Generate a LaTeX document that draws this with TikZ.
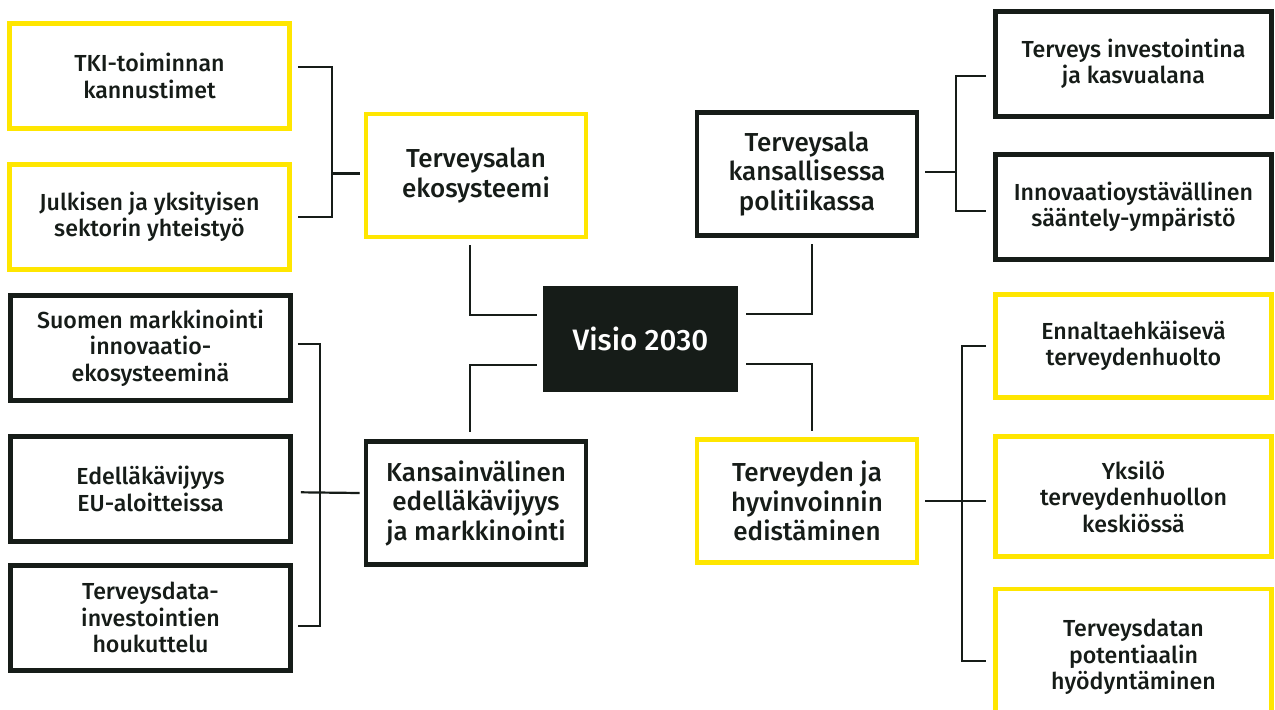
\documentclass[tikz,border=0pt]{standalone}
\usepackage{fontspec}
\setmainfont{Fira Sans}[UprightFont=* Medium]
\usetikzlibrary{positioning, calc}
\definecolor{cYel}{HTML}{FFE600}
\definecolor{ink}{HTML}{161C18}

\begin{document}
\begin{tikzpicture}[
    x=0.25mm, y=-0.25mm,
    box/.style={
        rectangle, draw=#1, line width=1.2mm, align=center, inner sep=0pt,
        text=ink, minimum width=55mm, minimum height=30.75mm,
        font=\fontsize{18.5}{21}\selectfont
    },
    ybox/.style={box=cYel},
    dbox/.style={box=ink},
    leaf/.style={minimum width=70mm, minimum height=26.25mm,
        font=\fontsize{16.5}{18.8}\selectfont},
    rleaf/.style={leaf, minimum width=69mm},
    visbox/.style={rectangle, fill=ink, text=white, minimum width=48.75mm,
        minimum height=26.5mm, font=\fontsize{21}{23}\selectfont},
    conn/.style={draw=ink, line width=0.55mm},
]
\useasboundingbox (0,0) rectangle (1275,709);
\clip (0,0) rectangle (1275,709);

% ---------------------------------------------------------------- centre
\node (visio) [visbox] at (640.5,339) {Visio 2030};

% ---------------------------------------------------------------- branches
\node (eko)     [ybox] at (476,175.5) {Terveysalan\\ekosysteemi};
\node (kanspol) [dbox] at (807,174)   {Terveysala\\kansallisessa\\politiikassa};
\node (kv)      [dbox] at (476,503)   {Kansainvälinen\\edelläkävijyys\\ja markkinointi};
\node (tervhyv) [ybox] at (807,501)   {Terveyden ja\\hyvinvoinnin\\edistäminen};

% ---------------------------------------------------------------- left leaves
\node (tki)    [ybox, leaf] at (149.5,76)               {TKI-toiminnan\\kannustimet};
\node (julk)   [ybox, leaf, below=7.75mm of tki]        {Julkisen ja yksityisen\\sektorin yhteistyö};
\node (suomen) [dbox, leaf] at (150.5,348)              {Suomen markkinointi\\innovaatio-\\ekosysteeminä};
\node (edel)   [dbox, leaf, below=7.75mm of suomen]     {Edelläkävijyys\\EU-aloitteissa};
\node (tdata)  [dbox, leaf, below=4.75mm of edel]       {Terveysdata-\\investointien\\houkuttelu};

% ---------------------------------------------------------------- right leaves
\node (tinv)   [dbox, rleaf] at (1133.5,64)             {Terveys investointina\\ja kasvualana};
\node (innov)  [dbox, rleaf, below=8.25mm of tinv]      {Innovaatioystävällinen\\sääntely-ympäristö};
\node (ennal)  [ybox, rleaf, minimum height=25.75mm] at (1133.5,346) {Ennaltaehkäisevä\\terveydenhuolto};
\node (yksilo) [ybox, rleaf, minimum height=30mm] at (1133.5,496.5)  {Yksilö\\terveydenhuollon\\keskiössä};
\node (tdatan) [ybox, rleaf, minimum height=34mm] at (1133.5,657)    {Terveysdatan\\potentiaalin\\hyödyntäminen};

% ---------------------------------------------------------------- centre links
\draw [conn] ($(eko.south)+(-6,6)$) |- ($(visio.west)+(-6,-24)$);
\draw [conn] ($(visio.west)+(-6,26)$) -| ($(kv.north)+(-6,-7)$);
\draw [conn] ($(visio.east)+(8,-25)$) -| ($(kanspol.south)+(5,6)$);
\draw [conn] ($(visio.east)+(8,25)$) -| ($(tervhyv.north)+(5,-6)$);

% ---------------------------------------------------------------- brackets
\draw [conn] ($(tki.east)+(6,-9)$) -- ++(34,0) |- ($(julk.east)+(6,0)$);
\draw [conn] ($(eko.west)+(-4,-2)$) -- ++(-28,0);

\draw [conn] ($(suomen.east)+(5,-4)$) -- ++(22,0) |- ($(tdata.east)+(5,8.5)$);
\draw [conn] ($(edel.east)+(8,3.5)$) -- ($(kv.west)+(-4,-10)$);

\draw [conn] ($(kanspol.east)+(6,-2)$) -- ++(31,0);
\draw [conn] ($(tinv.west)+(-7,12)$) -- ++(-30,0) |- ($(innov.west)+(-7,4.5)$);

\draw [conn] ($(tervhyv.east)+(6,0)$) -- ($(yksilo.west)+(-7,4.5)$);
\draw [conn] ($(ennal.west)+(-7,0)$) -- ++(-24,0) |- ($(tdatan.west)+(-7,4)$);

\end{tikzpicture}
\end{document}
